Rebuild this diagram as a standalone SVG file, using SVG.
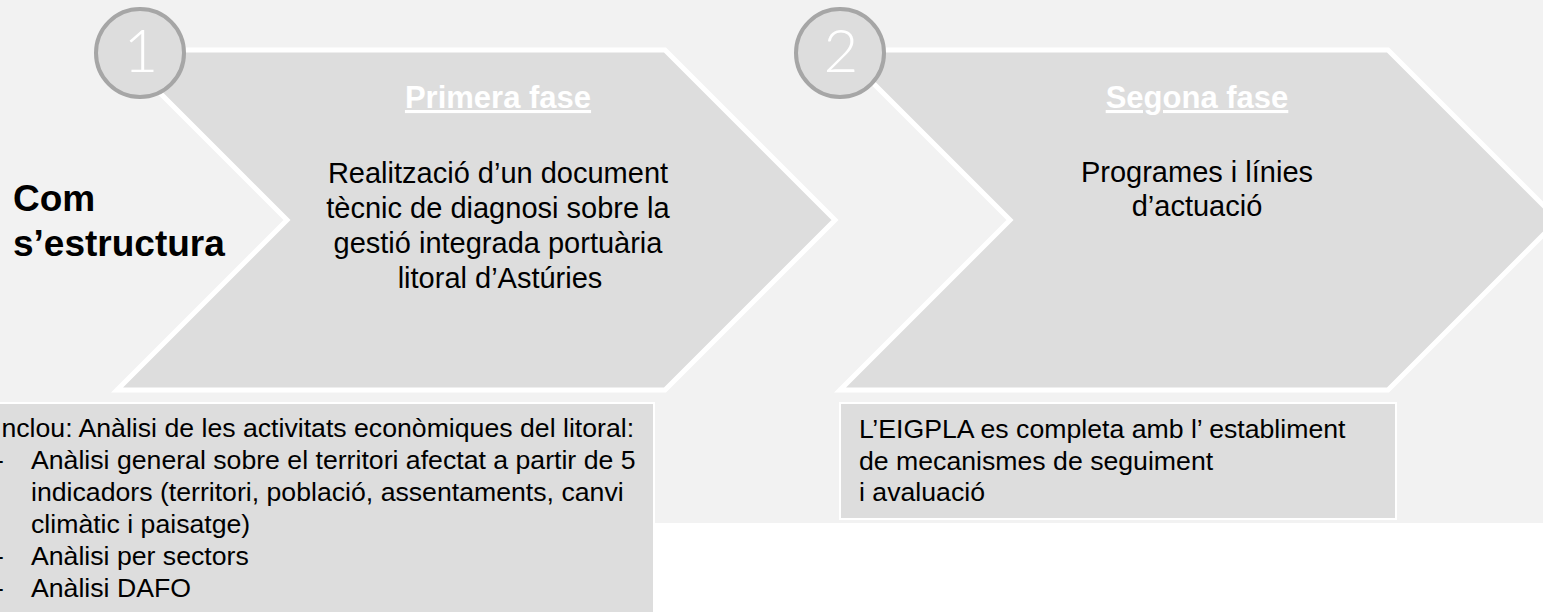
<svg xmlns="http://www.w3.org/2000/svg" width="1543" height="612" viewBox="0 0 1543 612">
<style>
.chev{fill:#dddddd;stroke:#ffffff;stroke-width:5;stroke-linejoin:miter}
.circ{fill:#dddddd;stroke:#a6a6a6;stroke-width:4}
.num{font-family:Lato,"Open Sans","Liberation Sans",sans-serif;font-weight:300;font-size:60px;fill:#ffffff;text-anchor:middle}
.head{font-family:"Liberation Sans",Arial,sans-serif;font-weight:bold;font-size:31px;fill:#ffffff;text-anchor:middle;text-decoration:underline}
.body{font-family:"Liberation Sans",Arial,sans-serif;font-size:29px;fill:#000000;text-anchor:middle}
.box{fill:#dddddd;stroke:#ffffff;stroke-width:2}
.btxt{font-family:"Liberation Sans",Arial,sans-serif;font-size:26.67px;fill:#000000}
.title{font-family:"Liberation Sans",Arial,sans-serif;font-weight:bold;font-size:37px;fill:#000000}
</style>
<rect x="0" y="0" width="1543" height="523" fill="#f2f2f2"/>
<g id="title">
<text class="title" x="13" y="211">Com</text>
<text class="title" x="13" y="256">s’estructura</text>
</g>
<g id="phase1">
<polygon class="chev" points="117,50 665,50 835,220 665,390 117,390 287,220"/>
<circle class="circ" cx="140" cy="53" r="44"/>
<text class="num" x="141" y="72">1</text>
<text class="head" x="498" y="108">Primera fase</text>
<text class="body" x="498" y="183">Realització d’un document</text>
<text class="body" x="498" y="218">tècnic de diagnosi sobre la</text>
<text class="body" x="498" y="253">gestió integrada portuària</text>
<text class="body" x="500" y="288">litoral d’Astúries</text>
</g>
<g id="phase2">
<polygon class="chev" points="840,50 1388,50 1558,220 1388,390 840,390 1010,220"/>
<circle class="circ" cx="840" cy="53" r="44"/>
<text class="num" x="841" y="72">2</text>
<text class="head" x="1197" y="108">Segona fase</text>
<text class="body" x="1197" y="182">Programes i línies</text>
<text class="body" x="1197" y="216">d’actuació</text>
</g>
<g id="box1">
<rect class="box" x="-10" y="403" width="664" height="220"/>
<text class="btxt" x="-6" y="437">Inclou: Anàlisi de les activitats econòmiques del litoral:</text>
<text class="btxt" x="-5" y="469">-</text>
<text class="btxt" x="31" y="469">Anàlisi general sobre el territori afectat a partir de 5</text>
<text class="btxt" x="31" y="501">indicadors (territori, població, assentaments, canvi</text>
<text class="btxt" x="31" y="533">climàtic i paisatge)</text>
<text class="btxt" x="-5" y="565">-</text>
<text class="btxt" x="31" y="565">Anàlisi per sectors</text>
<text class="btxt" x="-5" y="597">-</text>
<text class="btxt" x="31" y="597">Anàlisi DAFO</text>
</g>
<g id="box2">
<rect class="box" x="840" y="403" width="556" height="116"/>
<text class="btxt" x="859" y="438">L’EIGPLA es completa amb l’ establiment</text>
<text class="btxt" x="859" y="470">de mecanismes de seguiment</text>
<text class="btxt" x="859" y="501">i avaluació</text>
</g>
<g id="connectors"></g>
</svg>
